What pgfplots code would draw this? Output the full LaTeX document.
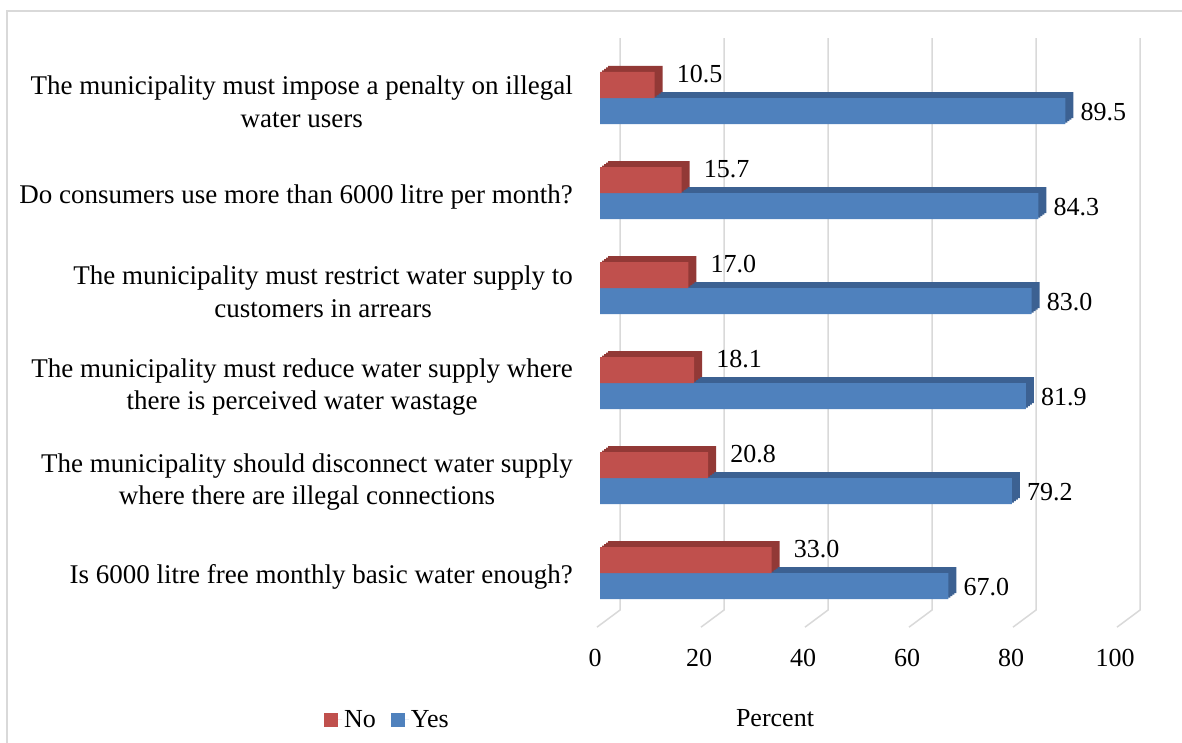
\documentclass[border=0pt]{standalone}
\usepackage{pgfplots}
\pgfplotsset{compat=1.18}
\usepackage{fontspec}
\setmainfont{Liberation Serif}
\definecolor{redC}{RGB}{192,80,77}
\definecolor{redD}{RGB}{146,57,54}
\definecolor{blueC}{RGB}{79,129,189}
\definecolor{blueD}{RGB}{60,97,146}
\definecolor{gridc}{RGB}{217,217,217}
\newcommand\fsz{\fontsize{26}{30}\selectfont}
\newcommand\lsz{\fontsize{27}{32.5}\selectfont}
\begin{document}
\begin{tikzpicture}
\path[use as bounding box] (0pt,0pt) rectangle (1182pt,-743pt);
\draw[gridc, line width=1.5pt] (7pt,-760pt) -- (7pt,-11pt) -- (1200pt,-11pt);
\begin{axis}[
  at={(600pt,-573pt)}, anchor=origin,
  x=5.2pt, y=95pt,
  xmin=0, xmax=100, ymin=-0.57, ymax=5.65,
  clip=false,
  axis line style={draw=none},
  major tick length=0pt,
  /pgf/number format/assume math mode=true,
  xtick={0,20,...,100},
  xticklabel style={anchor=center, yshift=-31pt, xshift=-5pt, font=\fsz},
  ytick={0,1,2,3,4,5},
  yticklabels={{Is 6000 litre free monthly basic water enough?},
    {The municipality should disconnect water supply\\where there are illegal connections},
    {The municipality must reduce water supply where\\there is perceived water wastage},
    {The municipality must restrict water supply to\\customers in arrears},
    {Do consumers use more than 6000 litre per month?},
    {The municipality must impose a penalty on illegal\\water users}},
  yticklabel style={align=center, anchor=east, inner sep=0pt, xshift=-27pt, yshift=-4pt, font=\lsz},
  xlabel={Percent},
  xlabel style={at={(axis description cs:0.3365,-0.154)}, anchor=center, font=\fsz},
  legend image code/.code={\fill[#1] (0pt,-7pt) rectangle (14pt,7pt); \path (14pt,0pt) -- (18pt,0pt);},
  legend style={at={(axis description cs:-0.531,-0.157)}, anchor=west, draw=none, fill=none,
    inner sep=0pt, font=\fsz, legend columns=2,
    /tikz/every even column/.append style={column sep=13pt}},
  legend cell align=left,
]
\pgfplotsinvokeforeach{0,20,40,60,80,100}{
  \draw[gridc, line width=1.5pt] ([xshift=20pt]axis cs:#1,5.63) -- ([xshift=20pt]axis cs:#1,-0.39) -- ([xshift=-3pt]axis cs:#1,-0.57);
}
% Yes depth layers
\addplot[forget plot, xbar, bar width=26pt, bar shift=-13pt, fill=blueD, draw=none, xshift=2pt, yshift=1.5pt]
  coordinates {(67.0,0) (79.2,1) (81.9,2) (83.0,3) (84.3,4) (89.5,5)};
\addplot[forget plot, xbar, bar width=26pt, bar shift=-13pt, fill=blueD, draw=none, xshift=4pt, yshift=3pt]
  coordinates {(67.0,0) (79.2,1) (81.9,2) (83.0,3) (84.3,4) (89.5,5)};
\addplot[forget plot, xbar, bar width=26pt, bar shift=-13pt, fill=blueD, draw=none, xshift=6pt, yshift=4.5pt]
  coordinates {(67.0,0) (79.2,1) (81.9,2) (83.0,3) (84.3,4) (89.5,5)};
\addplot[forget plot, xbar, bar width=26pt, bar shift=-13pt, fill=blueD, draw=none, xshift=8pt, yshift=6pt]
  coordinates {(67.0,0) (79.2,1) (81.9,2) (83.0,3) (84.3,4) (89.5,5)};
% Yes front
\addplot[forget plot, xbar, bar width=26pt, bar shift=-13pt, fill=blueC, draw=none,
  point meta=x,
  nodes near coords={\pgfmathprintnumber[fixed,zerofill,precision=1]{\pgfplotspointmeta}},
  every node near coord/.append style={anchor=west, inner sep=0pt, xshift=15pt, yshift=-14pt, font=\fsz, text=black}]
  coordinates {(67.0,0) (79.2,1) (81.9,2) (83.0,3) (84.3,4) (89.5,5)};
% No depth layers
\addplot[forget plot, xbar, bar width=26pt, bar shift=13pt, fill=redD, draw=none, xshift=2pt, yshift=1.5pt]
  coordinates {(33.0,0) (20.8,1) (18.1,2) (17.0,3) (15.7,4) (10.5,5)};
\addplot[forget plot, xbar, bar width=26pt, bar shift=13pt, fill=redD, draw=none, xshift=4pt, yshift=3pt]
  coordinates {(33.0,0) (20.8,1) (18.1,2) (17.0,3) (15.7,4) (10.5,5)};
\addplot[forget plot, xbar, bar width=26pt, bar shift=13pt, fill=redD, draw=none, xshift=6pt, yshift=4.5pt]
  coordinates {(33.0,0) (20.8,1) (18.1,2) (17.0,3) (15.7,4) (10.5,5)};
\addplot[forget plot, xbar, bar width=26pt, bar shift=13pt, fill=redD, draw=none, xshift=8pt, yshift=6pt]
  coordinates {(33.0,0) (20.8,1) (18.1,2) (17.0,3) (15.7,4) (10.5,5)};
% No front
\addplot[forget plot, xbar, bar width=26pt, bar shift=13pt, fill=redC, draw=none,
  point meta=x,
  nodes near coords={\pgfmathprintnumber[fixed,zerofill,precision=1]{\pgfplotspointmeta}},
  every node near coord/.append style={anchor=west, inner sep=0pt, xshift=22pt, yshift=24pt, font=\fsz, text=black}]
  coordinates {(33.0,0) (20.8,1) (18.1,2) (17.0,3) (15.7,4) (10.5,5)};
\addlegendimage{fill=redC, draw=none}
\addlegendentry{No}
\addlegendimage{fill=blueC, draw=none}
\addlegendentry{Yes}
\end{axis}
\end{tikzpicture}
\end{document}
